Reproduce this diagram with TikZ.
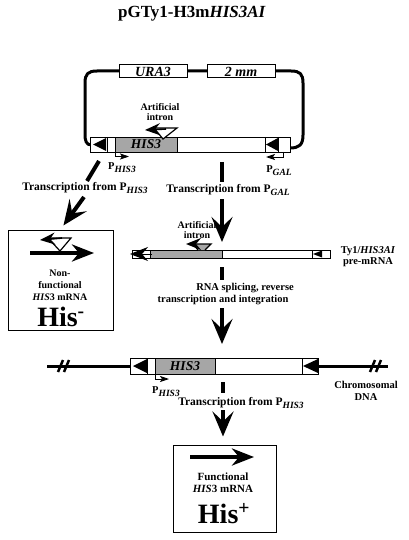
\documentclass[tikz,border=0pt]{standalone}
\usepackage{fontspec}
\setmainfont{Liberation Serif}
\usetikzlibrary{arrows.meta}
\newcommand{\psub}[1]{\raisebox{-0.3em}{\fontsize{9.5}{10}\selectfont\itshape #1}}
\begin{document}
\begin{tikzpicture}[x=1pt,y=-1pt,
  txt/.style={font=\bfseries\fontsize{11.5}{13}\selectfont, inner sep=0pt},
  ptxt/.style={font=\bfseries\fontsize{10.5}{12}\selectfont, inner sep=0pt},
  sm/.style={font=\bfseries\fontsize{10}{10}\selectfont, inner sep=0pt, align=center},
  bx/.style={font=\bfseries\fontsize{11}{12}\selectfont, inner sep=0pt, align=center},
  big/.style={font=\bfseries\fontsize{28}{30}\selectfont, inner sep=0pt},
  loopline/.style={line width=3pt},
  dashseg/.style={line width=4pt},
  bigarrow/.style={line width=4pt, -{Stealth[length=25pt,width=21pt,inset=10pt]}},
  boxarrow/.style={line width=4pt, -{Stealth[length=22pt,width=17pt,inset=7pt]}},
  intarrow/.style={line width=1.6pt, -{Stealth[length=15pt,width=12pt,inset=5pt]}},
  promarrow/.style={line width=0.8pt, -{Stealth[length=9pt,width=6pt,inset=2pt]}},
  genebox/.style={draw, line width=0.6pt, fill=black!35, inner sep=0pt, font=\bfseries\itshape\fontsize{13.5}{14}\selectfont},
  bar/.style={draw, line width=0.6pt, fill=white, inner sep=0pt},
  topbox/.style={draw, line width=1pt, fill=white, inner sep=0pt, minimum width=68pt, minimum height=13pt, font=\bfseries\itshape\fontsize{14}{14}\selectfont},
  frame/.style={draw, line width=1pt, inner sep=0pt},
]
\useasboundingbox (0,0) rectangle (408,540);

% title
\node[font=\bfseries\fontsize{17}{18}\selectfont] (title) at (192,14) {pGTy1-H3m\textit{HIS3AI}};

% plasmid loop
\draw[loopline] (92,145) .. controls (86,145) and (85,141) .. (85,134) -- (85,83)
  .. controls (85,74) and (88,71) .. (97,71) -- (291,71)
  .. controls (300,71) and (303,74) .. (303,83) -- (303,135)
  .. controls (303,145) and (299,148) .. (290,148);
\node[topbox] (ura) at (153,71.5) {URA3};
\node[topbox] (twomu) at (241,71.5) {2 mm};

% plasmid bar
\node[bar, minimum width=200pt, minimum height=15pt] (plbar) at (190,144.5) {};
\node[genebox, minimum width=62pt, minimum height=15pt] (his3a) at (146,144.5) {HIS3};
\fill (93,144.5) -- (106,138) -- (106,151) -- cycle;
\draw[line width=0.6pt] (107,137) -- (107,152);
\fill (266,144.5) -- (278,138) -- (278,151) -- cycle;
\draw[line width=0.6pt] (265,137) -- (265,152) (278,137) -- (278,152);

% artificial intron on plasmid
\draw[line width=1.2pt, fill=white] (154,128) -- (177,128) -- (163,139) -- cycle;
\draw[intarrow] (166,129) -- (145,130);
\node[sm] (ai1) at (160,112) {Artificial\\intron};

% promoters on plasmid
\coordinate (ph1) at (115,152);
\draw[promarrow] (ph1) -- (115,156.5) -- (129,156.5);
\node[ptxt] (phis1) at (122,168) {P\psub{HIS3}};
\coordinate (pg1) at (283,152);
\draw[promarrow] (pg1) -- (283,157) -- (266,157);
\node[ptxt] (pgal1) at (279,171) {P\psub{GAL}};

% left transcription
\coordinate (l1) at (99,161);
\coordinate (l2) at (87,181);
\draw[dashseg] (l1) -- (l2);
\node[txt] (tr1) at (85,188) {Transcription from P\psub{HIS3}};
\coordinate (l3) at (84,197);

% non-functional box
\node[frame, minimum width=105pt, minimum height=100pt] (nf) at (60.5,280) {};
\draw[bigarrow, shorten >=5pt] (l3) -- (nf.north);
\draw[boxarrow] (30,253) -- (94,253);
\draw[line width=1.2pt, fill=white] (48,238) -- (71,238) -- (60,251) -- cycle;
\draw[intarrow] (62,238) -- (40,240);
\node[bx, font=\bfseries\fontsize{10}{12}\selectfont] (nft) at (60,285) {Non-\\functional\\\textit{HIS}3 mRNA};
\node[big] (hism) at (61,317) {His\textsuperscript{-}};

% middle transcription
\coordinate (m1) at (222,162);
\coordinate (m2) at (222,182);
\draw[dashseg] (m1) -- (m2);
\node[txt] (tr2) at (228,190) {Transcription from P\psub{GAL}};
\coordinate (m3) at (222,199);
\coordinate (m4) at (222,242);
\draw[bigarrow] (m3) -- (m4);

% pre-mRNA
\node[bar, minimum width=198pt, minimum height=8pt] (pre) at (231,254) {};
\fill[black!35] (150,250) rectangle (222,258);
\draw[line width=0.6pt] (132,250) -- (330,250) (132,258) -- (330,258);
\draw[line width=0.6pt] (150,250) -- (150,258) (222,250) -- (222,258);
\draw[line width=1pt, -{Stealth[length=18pt,width=14pt,inset=6pt]}] (152,254) -- (130,254);
\draw[line width=0.6pt] (312,250) -- (312,258);
\fill (313,254) -- (322,250.5) -- (322,257.5) -- cycle;
\fill[black!35] (193,244) -- (211,244) -- (205,250) -- (198,250) -- cycle;
\draw[line width=1.2pt] (193,244) -- (198,250);
\draw[intarrow, line width=1.4pt] (205,250) -- (211,244) -- (186,244);
\node[sm] (ai2) at (197,230) {Artificial\\intron};
\node[sm, font=\bfseries\fontsize{10.5}{11}\selectfont] (prel) at (368,257) {Ty1/\textit{HIS3AI}\\pre-mRNA};

% splicing step
\coordinate (s1) at (222,267);
\coordinate (s2) at (222,280);
\draw[dashseg] (s1) -- (s2);
\node[txt, font=\bfseries\fontsize{10.5}{12}\selectfont] (rs1) at (245,288) {RNA splicing, reverse};
\node[txt, font=\bfseries\fontsize{10.5}{12}\selectfont] (rs2) at (223,300) {transcription and integration};
\coordinate (s3) at (222,308);
\coordinate (s4) at (222,344);
\draw[bigarrow] (s3) -- (s4);

% chromosome
\coordinate (cl) at (47,366);
\coordinate (cr) at (388,366);
\draw[loopline] (cl) -- (130,366);
\draw[loopline] (318,366) -- (cr);
\draw[line width=2.5pt] (58,372) -- (63,360) (64,372) -- (69,360);
\draw[line width=2.5pt] (370,372) -- (375,360) (376,372) -- (381,360);
\node[bar, minimum width=172pt, minimum height=16pt] (chbar) at (216,366) {};
\node[genebox, minimum width=60pt, minimum height=16pt] (his3c) at (185,366) {HIS3};
\fill (133,366) -- (147,359) -- (147,373) -- cycle;
\draw[line width=0.6pt] (147,358) -- (147,374);
\draw[line width=0.6pt, fill=white] (302,358) rectangle (318,374);
\fill (303,366) -- (318,359) -- (318,373) -- cycle;
\draw[promarrow] (155,374) -- (155,379) -- (169,379);
\node[ptxt] (phis2) at (166,392) {P\psub{HIS3}};
\node[sm, font=\bfseries\fontsize{10.5}{12}\selectfont] (cdna) at (366,391) {Chromosomal\\DNA};

% last transcription
\coordinate (t1) at (223,382);
\coordinate (t2) at (223,393);
\draw[dashseg] (t1) -- (t2);
\node[txt] (tr3) at (241,403) {Transcription from P\psub{HIS3}};
\coordinate (t3) at (223,410);

% functional box
\node[frame, minimum width=103pt, minimum height=87pt] (fb) at (224.5,488.5) {};
\draw[bigarrow, shorten >=8pt] (t3) -- (fb.north -| t3);
\draw[boxarrow] (190,457) -- (254,457);
\node[bx] (fnt) at (223,483) {Functional\\\textit{HIS}3 mRNA};
\node[big] (hisp) at (224,514) {His\textsuperscript{+}};
\end{tikzpicture}
\end{document}
